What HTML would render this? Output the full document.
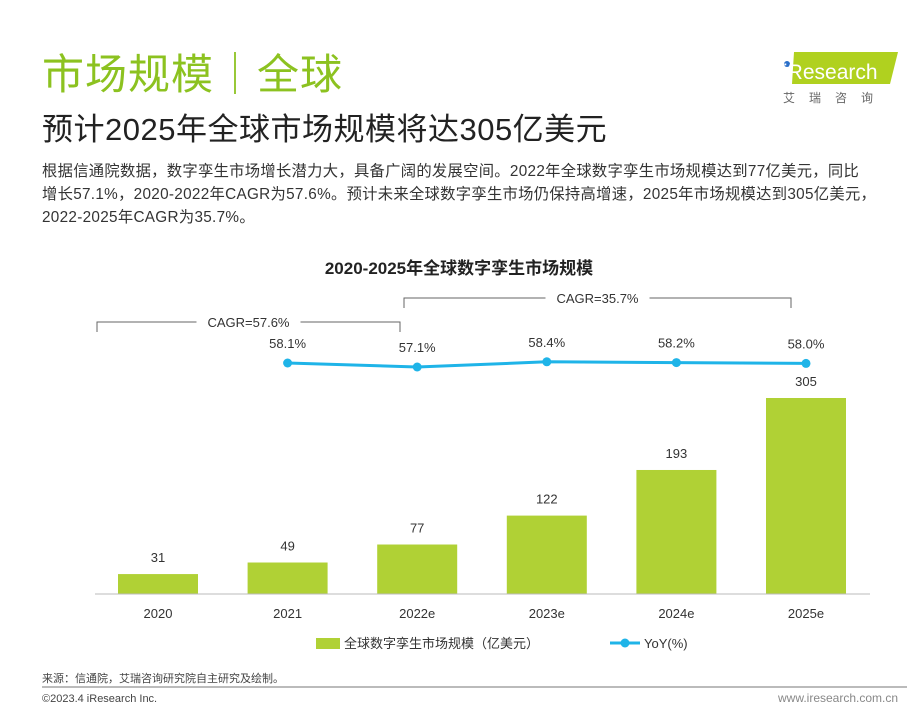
<!DOCTYPE html>
<html><head><meta charset="utf-8"><style>
body{margin:0;width:919px;height:712px;background:#fff;font-family:"Liberation Sans","Noto Sans CJK SC",sans-serif;position:relative;overflow:hidden}
.a{position:absolute;white-space:nowrap}
</style></head><body>
<div class="a" style="left:42px;top:48px;font-size:42px;color:#8cc220;line-height:54px;letter-spacing:1px">市场规模｜全球</div>
<div class="a" style="left:42px;top:110px;font-size:31px;color:#222;line-height:40px;letter-spacing:0.5px">预计2025年全球市场规模将达305亿美元</div>
<div class="a" style="left:780px;top:47px;width:118px;height:58px">
<svg width="118" height="58"><polygon points="14,5 118,5 110,37 12,37" fill="#b0d11f"/><circle cx="7" cy="17" r="3" fill="#2a6fc9"/><text x="3" y="32" font-size="21" fill="#fff" font-family="Liberation Sans">iResearch</text><text x="3" y="55" font-size="12" fill="#666" letter-spacing="14" font-family="Noto Sans CJK SC">艾瑞咨询</text></svg></div>
<div class="a" style="left:42px;top:160px;font-size:15.3px;color:#333;line-height:23px;letter-spacing:0.3px">根据信通院数据，数字孪生市场增长潜力大，具备广阔的发展空间。2022年全球数字孪生市场规模达到77亿美元，同比<br>增长57.1%，2020-2022年CAGR为57.6%。预计未来全球数字孪生市场仍保持高增速，2025年市场规模达到305亿美元，<br>2022-2025年CAGR为35.7%。</div>
<svg id="c" class="a" style="left:0;top:0" width="919" height="712"></svg>
<div class="a" style="left:42px;top:670px;font-size:11px;color:#444">来源：信通院，艾瑞咨询研究院自主研究及绘制。</div>
<div class="a" style="left:42px;top:686px;width:865px;height:2px;background:#bbb"></div>
<div class="a" style="left:42px;top:693px;font-size:11px;color:#444">©2023.4 iResearch Inc.</div>
<div class="a" style="left:778px;top:691px;font-size:12px;color:#888">www.iresearch.com.cn</div>
<script>
const categories=["2020","2021","2022e","2023e","2024e","2025e"];
const sizes=[31,49,77,122,193,305];
const yoy=[null,58.1,57.1,58.4,58.2,58.0];
const yoyLabels=["","58.1%","57.1%","58.4%","58.2%","58.0%"];
const NS="http://www.w3.org/2000/svg",svg=document.getElementById('c');
function el(t,a,txt){const e=document.createElementNS(NS,t);for(const k in a)e.setAttribute(k,a[k]);if(txt!==undefined)e.textContent=txt;svg.appendChild(e);return e;}
const base=594,k=196/305;
const xc=i=>158+i*129.6;
const yb=v=>base-v*k;
const yl=v=>367-(v-57.1)*4;
let t=el('text',{x:459,y:274,'text-anchor':'middle','font-size':17,'font-weight':'bold',fill:'#222'},'2020-2025年全球数字孪生市场规模');

categories.forEach((c,i)=>{
 const r=el('rect',{x:xc(i)-40,y:yb(sizes[i]),width:80,height:sizes[i]*k,fill:'#b0d135'});
 
 const l=el('text',{x:xc(i),y:yb(sizes[i])-12,'text-anchor':'middle','font-size':13,fill:'#333'},sizes[i]);
 
 const x=el('text',{x:xc(i),y:618,'text-anchor':'middle','font-size':13,fill:'#333'},c);
 
});
const ax=el('line',{x1:95,x2:870,y1:base,y2:base,stroke:'#bbb'});

let pts=[];yoy.forEach((v,i)=>{if(v!=null)pts.push(xc(i)+','+yl(v));});
const pl=el('polyline',{points:pts.join(' '),fill:'none',stroke:'#1fb4e8','stroke-width':3});

yoy.forEach((v,i)=>{if(v==null)return;
 const c=el('circle',{cx:xc(i),cy:yl(v),r:4.5,fill:'#1fb4e8'});
 
 const l=el('text',{x:xc(i),y:yl(v)-15,'text-anchor':'middle','font-size':13,fill:'#333'},yoyLabels[i]);
 
});
function bracket(x1,x2,y,txt,name){
 const p=el('polyline',{points:`${x1},${y+10} ${x1},${y} ${x2},${y} ${x2},${y+10}`,fill:'none',stroke:'#666'});
 
 const r=el('rect',{x:(x1+x2)/2-52,y:y-9,width:104,height:18,fill:'#fff'});
 const tt=el('text',{x:(x1+x2)/2,y:y+5,'text-anchor':'middle','font-size':13,fill:'#333'},txt);
 
}
bracket(97,400,322,'CAGR=57.6%','cagr-bracket-2020-2022');
bracket(404,791,298,'CAGR=35.7%','cagr-bracket-2022-2025');
const lg1=el('rect',{x:316,y:638,width:24,height:11,fill:'#b0d135'});

const lt1=el('text',{x:344,y:648,'font-size':13,fill:'#333'},'全球数字孪生市场规模（亿美元）');

const lg2=el('line',{x1:610,x2:640,y1:643,y2:643,stroke:'#1fb4e8','stroke-width':3});

el('circle',{cx:625,cy:643,r:4.5,fill:'#1fb4e8'});
const lt2=el('text',{x:644,y:648,'font-size':13,fill:'#333'},'YoY(%)');

</script>
</body></html>
